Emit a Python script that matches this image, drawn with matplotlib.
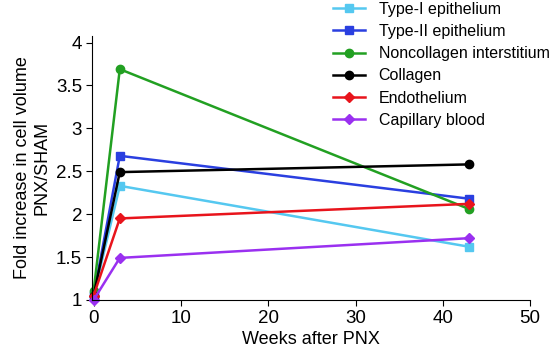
import matplotlib
matplotlib.use('Agg')
import matplotlib.pyplot as plt

plt.rcParams['font.family'] = ['Liberation Sans', 'DejaVu Sans']

# weeks after pneumonectomy
weeks = [0, 3, 43]

labels = ['Type-I epithelium', 'Type-II epithelium', 'Noncollagen interstitium',
          'Collagen', 'Endothelium', 'Capillary blood']
type1 = [1.05, 2.33, 1.62]
type2 = [1.05, 2.68, 2.18]
noncollagen = [1.1, 3.69, 2.06]
collagen = [1.05, 2.49, 2.58]
endothelium = [1.05, 1.95, 2.12]
capillary = [1.0, 1.49, 1.72]

series = [type1, type2, noncollagen, collagen, endothelium, capillary]
colors = ['#55c8f0', '#2a3fe0', '#22a022', 'black', '#e8141c', '#9a30f0']
markers = ['s', 's', 'o', 'o', 'D', 'D']

fig = plt.figure(figsize=[5.5, 3.5], dpi=100)
ax = fig.add_axes([0.167, 0.143, 0.797, 0.755])

for vals, lab, c, m in zip(series, labels, colors, markers):
    ax.plot(weeks, vals, color=c, marker=m, markersize=6 if m != 'D' else 5,
            linewidth=1.8, label=lab, clip_on=False)

ax.set_xlim(-0.2, 50)
ax.set_ylim(1, 4.08)
ax.set_xticks([0, 10, 20, 30, 40, 50])
ax.set_yticks([1, 1.5, 2, 2.5, 3, 3.5, 4])
ax.set_yticklabels(['1', '1.5', '2', '2.5', '3', '3.5', '4'])
ax.spines['top'].set_visible(False)
ax.spines['right'].set_visible(False)
ax.tick_params(direction='out', length=4, labelsize=13.5, pad=3)
ax.set_xlabel('Weeks after PNX', fontsize=13, labelpad=3)
ax.set_ylabel('Fold increase in cell volume\nPNX/SHAM', fontsize=13, labelpad=4)

fig.legend(loc='upper left', bbox_to_anchor=(0.588, 1.022), frameon=False,
           fontsize=11.5, borderpad=0.1, labelspacing=0.45, handlelength=2.0,
           handletextpad=0.85)

fig.savefig('out.png', dpi=100)
